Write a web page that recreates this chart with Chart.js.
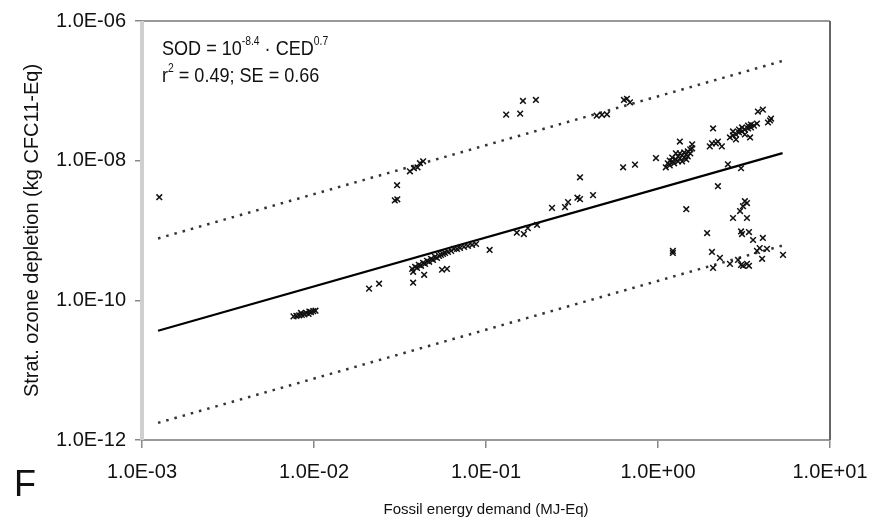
<!DOCTYPE html>
<html>
<head>
<meta charset="utf-8">
<script src="https://cdn.jsdelivr.net/npm/chart.js@4.4.0/dist/chart.umd.min.js"></script>
<style>
  html, body { margin: 0; padding: 0; background: #fff; }
  #wrap { width: 881px; height: 523px; }
</style>
</head>
<body>
<div id="wrap"><canvas id="myChart" width="881" height="523"></canvas></div>
<script>
// fossil energy demand (MJ-Eq) of each dataset
let ced = [
    1.26e-3,
    7.6e-3, 7.9e-3, 8.2e-3, 8.5e-3, 8.8e-3, 9.0e-3, 9.3e-3, 9.6e-3, 9.9e-3, 1.02e-2, 8.4e-3, 9.4e-3,
    2.09e-2, 2.39e-2,
    3.04e-2, 2.95e-2, 3.05e-2, 3.61e-2, 3.81e-2, 4.13e-2, 4.31e-2, 4.0e-2,
    3.72e-2, 3.77e-2, 3.87e-2, 3.97e-2, 4.07e-2, 4.19e-2, 4.31e-2, 4.42e-2, 4.54e-2, 4.67e-2,
    4.79e-2, 4.92e-2, 5.05e-2, 5.19e-2, 5.33e-2, 5.47e-2, 5.62e-2, 5.78e-2, 6.01e-2, 6.27e-2,
    6.52e-2, 6.78e-2, 7.06e-2, 7.45e-2, 7.85e-2, 8.30e-2, 8.75e-2,
    4.37e-2, 5.55e-2, 5.93e-2, 3.77e-2, 0.105,
    0.151, 0.166, 0.175, 0.198, 0.242, 0.288, 0.300, 0.352, 0.34, 0.419, 0.352, 0.627, 0.735,
    0.131, 0.158, 0.164, 0.195, 0.472, 0.505, 0.44, 0.634, 0.687, 0.66,
    0.973, 1.11, 1.14, 1.17, 1.21, 1.24, 1.27, 1.31, 1.31, 1.34, 1.34, 1.38, 1.42, 1.42, 1.46,
    1.49, 1.54, 1.54, 1.21, 1.27, 1.46, 1.17, 1.38, 1.49, 1.58, 1.34, 1.58,
    2.00, 2.09, 2.23, 2.35, 2.17, 2.06,
    2.62, 2.73, 2.73, 2.84, 2.96, 2.96, 3.08, 3.08, 3.20, 3.34, 3.34, 3.47, 3.47, 3.61, 3.76,
    3.20, 2.84, 3.43, 3.81, 4.07, 4.36, 4.54, 4.48,
    2.55, 3.04, 2.23, 1.46,
    3.20, 3.29, 3.12, 3.00, 2.73, 3.29, 1.93, 3.08, 3.38, 3.57, 4.07, 3.04, 2.06, 2.29, 2.62,
    2.09, 3.12, 3.29, 3.04, 3.38, 2.92, 3.76, 4.30, 4.03, 5.33, 1.22, 1.22, 3.9
];

// stratospheric ozone depletion (kg CFC11-Eq), same order as ced
let sod = [
    3.0e-9,
    5.9e-11, 6.0e-11, 6.1e-11, 6.2e-11, 6.3e-11, 6.6e-11, 6.4e-11, 6.8e-11, 7.0e-11, 7.1e-11, 6.6e-11, 6.9e-11,
    1.47e-10, 1.73e-10,
    4.45e-9, 2.7e-9, 2.8e-9, 7.05e-9, 7.8e-9, 9.2e-9, 9.8e-9, 8.0e-9,
    2.82e-10, 2.56e-10, 3.02e-10, 2.92e-10, 3.22e-10, 3.12e-10, 3.44e-10, 3.33e-10, 3.67e-10, 3.56e-10,
    3.93e-10, 3.79e-10, 4.19e-10, 4.06e-10, 4.33e-10, 4.48e-10, 4.62e-10, 4.77e-10, 4.93e-10, 5.10e-10,
    5.45e-10, 5.45e-10, 5.62e-10, 5.82e-10, 6.01e-10, 6.21e-10, 6.41e-10,
    2.32e-10, 2.74e-10, 2.82e-10, 1.79e-10, 5.27e-10,
    9.3e-10, 8.9e-10, 1.08e-9, 1.20e-9, 2.11e-9, 2.16e-9, 2.55e-9, 2.81e-9, 2.95e-9, 3.21e-9, 5.78e-9, 8.04e-9, 8.77e-9,
    4.57e-8, 4.72e-8, 7.16e-8, 7.41e-8, 4.53e-8, 4.61e-8, 4.4e-8, 7.41e-8, 6.84e-8, 7.7e-8,
    1.09e-8, 8.04e-9, 9.17e-9, 8.57e-9, 9.77e-9, 9.17e-9, 1.04e-8, 9.77e-9, 1.15e-8, 1.08e-8, 1.27e-8, 1.19e-8, 1.11e-8, 1.31e-8, 1.23e-8,
    1.36e-8, 1.27e-8, 1.45e-8, 1.11e-8, 1.27e-8, 1.04e-8, 1.0e-8, 9.77e-9, 1.15e-8, 1.50e-8, 1.88e-8, 1.71e-8,
    1.60e-8, 2.89e-8, 1.88e-8, 1.60e-8, 1.77e-8, 1.77e-8,
    2.15e-8, 2.30e-8, 2.62e-8, 2.37e-8, 2.54e-8, 2.79e-8, 2.62e-8, 2.99e-8, 2.79e-8, 2.89e-8, 3.18e-8, 2.99e-8, 3.29e-8, 3.18e-8, 3.40e-8,
    2.37e-8, 2.01e-8, 2.15e-8, 5.05e-8, 5.38e-8, 3.52e-8, 4.01e-8, 3.76e-8,
    8.87e-9, 7.79e-9, 4.31e-9, 2.02e-9,
    2.63e-9, 2.47e-9, 2.23e-9, 1.90e-9, 1.51e-9, 1.51e-9, 9.2e-10, 8.9e-10, 9.5e-10, 7.31e-10, 7.82e-10, 9.7e-10, 4.93e-10, 4.06e-10, 3.33e-10,
    2.92e-10, 3.12e-10, 3.33e-10, 3.22e-10, 3.12e-10, 3.79e-10, 5.10e-10, 5.45e-10, 3.93e-10, 4.48e-10, 4.77e-10, 5.10e-10, 5.6e-10
];

// regression line and the two dotted bands (end points)
let fitX = [1.24e-3, 5.3];
let fitY = [3.67e-11, 1.28e-8];
let upperY = [7.7e-10, 2.68e-7];
let lowerY = [1.76e-12, 6.1e-10];

let xTicks = [1e-3, 1e-2, 1e-1, 1e0, 1e1];
let yTicks = [1e-12, 1e-10, 1e-8, 1e-6];

const FONT = "'Liberation Sans', Arial, sans-serif";

let sci = (v) => {
    let e = Math.round(Math.log10(v));
    return '1.0E' + (e < 0 ? '-' : '+') + String(Math.abs(e)).padStart(2, '0');
};

let pts = ced.map((x, i) => ({x: x, y: sod[i]}));
let line = (ys) => fitX.map((x, i) => ({x: x, y: ys[i]}));

// frame, equation text and the panel letter
let extras = {
    id: 'extras',
    beforeDatasetsDraw(chart) {
        let {ctx, chartArea: a} = chart;
        ctx.save();
        ctx.lineWidth = 2;
        ctx.strokeStyle = '#999';
        ctx.beginPath();
        ctx.moveTo(a.left, a.top); ctx.lineTo(a.right, a.top);
        ctx.moveTo(a.left, a.bottom); ctx.lineTo(a.right, a.bottom);
        ctx.stroke();
        ctx.strokeStyle = '#666';
        ctx.beginPath();
        ctx.moveTo(a.right, a.top); ctx.lineTo(a.right, a.bottom);
        ctx.stroke();
        ctx.lineWidth = 4;
        ctx.strokeStyle = '#cfcfcf';
        ctx.beginPath();
        ctx.moveTo(a.left, a.top); ctx.lineTo(a.left, a.bottom);
        ctx.stroke();
        ctx.restore();
    },
    afterDraw(chart) {
        let ctx = chart.ctx;
        ctx.save();
        ctx.fillStyle = '#111';
        ctx.textBaseline = 'alphabetic';
        // the equation is set in a slightly condensed face
        ctx.translate(162, 0);
        ctx.scale(0.86, 1);
        let big = '21px ' + FONT, small = '12px ' + FONT;
        let parts1 = [['SOD = 10', big, 0], ['-8.4', small, -10], [' · CED', big, 0], ['0.7', small, -10]];
        let parts2 = [['r', big, 0], ['2', small, -10], [' = 0.49; SE = 0.66', big, 0]];
        [[parts1, 55], [parts2, 82]].forEach(([parts, y]) => {
            let x = 0;
            parts.forEach(([t, f, dy]) => {
                ctx.font = f;
                ctx.fillText(t, x, y + dy);
                x += ctx.measureText(t).width;
            });
        });
        ctx.setTransform(1, 0, 0, 1, 0, 0);
        ctx.font = '36px ' + FONT;
        ctx.fillText('F', 14, 496);
        ctx.restore();
    }
};

let config = {
    type: 'scatter',
    data: {
        datasets: [
            {
                data: pts,
                pointStyle: 'crossRot',
                pointRadius: 4,
                pointBorderWidth: 1.5,
                borderColor: '#111',
                backgroundColor: '#111',
            },
            {
                data: line(fitY),
                showLine: true,
                pointRadius: 0,
                borderColor: '#000',
                borderWidth: 2.2,
            },
            {
                data: line(upperY),
                showLine: true,
                pointRadius: 0,
                borderColor: '#333',
                borderWidth: 2.5,
                borderDash: [2.5, 6],
            },
            {
                data: line(lowerY),
                showLine: true,
                pointRadius: 0,
                borderColor: '#333',
                borderWidth: 2.5,
                borderDash: [2.5, 6],
            },
        ]
    },
    options: {
        responsive: false,
        animation: false,
        layout: {padding: {left: 0, right: 51, top: 19, bottom: 0}},
        plugins: {legend: {display: false}, tooltip: {enabled: false}},
        scales: {
            x: {
                type: 'logarithmic',
                min: 1e-3,
                max: 1e1,
                afterBuildTicks: (s) => { s.ticks = xTicks.map(v => ({value: v})); },
                afterFit: (s) => { s.height = 83; },
                border: {display: false},
                grid: {drawOnChartArea: false, drawTicks: true, tickLength: 8, color: '#888', lineWidth: 1.5},
                ticks: {
                    callback: (v) => sci(v),
                    color: '#111',
                    font: {family: FONT, size: 20},
                    padding: 12,
                    maxRotation: 0,
                    autoSkip: false,
                },
                title: {
                    display: true,
                    text: 'Fossil energy demand (MJ-Eq)',
                    color: '#111',
                    font: {family: FONT, size: 15},
                    padding: {top: 0, bottom: 4},
                },
            },
            y: {
                type: 'logarithmic',
                min: 1e-12,
                max: 1e-6,
                afterBuildTicks: (s) => { s.ticks = yTicks.map(v => ({value: v})); },
                afterFit: (s) => { s.width = 142; },
                border: {display: false},
                grid: {drawOnChartArea: false, drawTicks: true, tickLength: 7, color: '#888', lineWidth: 1.5},
                ticks: {
                    callback: (v) => sci(v),
                    color: '#111',
                    font: {family: FONT, size: 20},
                    padding: 9,
                    autoSkip: false,
                },
                title: {
                    display: true,
                    text: 'Strat. ozone depletion (kg CFC11-Eq)',
                    color: '#111',
                    font: {family: FONT, size: 20},
                    padding: {top: 20, bottom: 0},
                },
            },
        },
    },
    plugins: [extras],
};

let myChart = new Chart(document.getElementById('myChart'), config);
</script>
</body>
</html>
